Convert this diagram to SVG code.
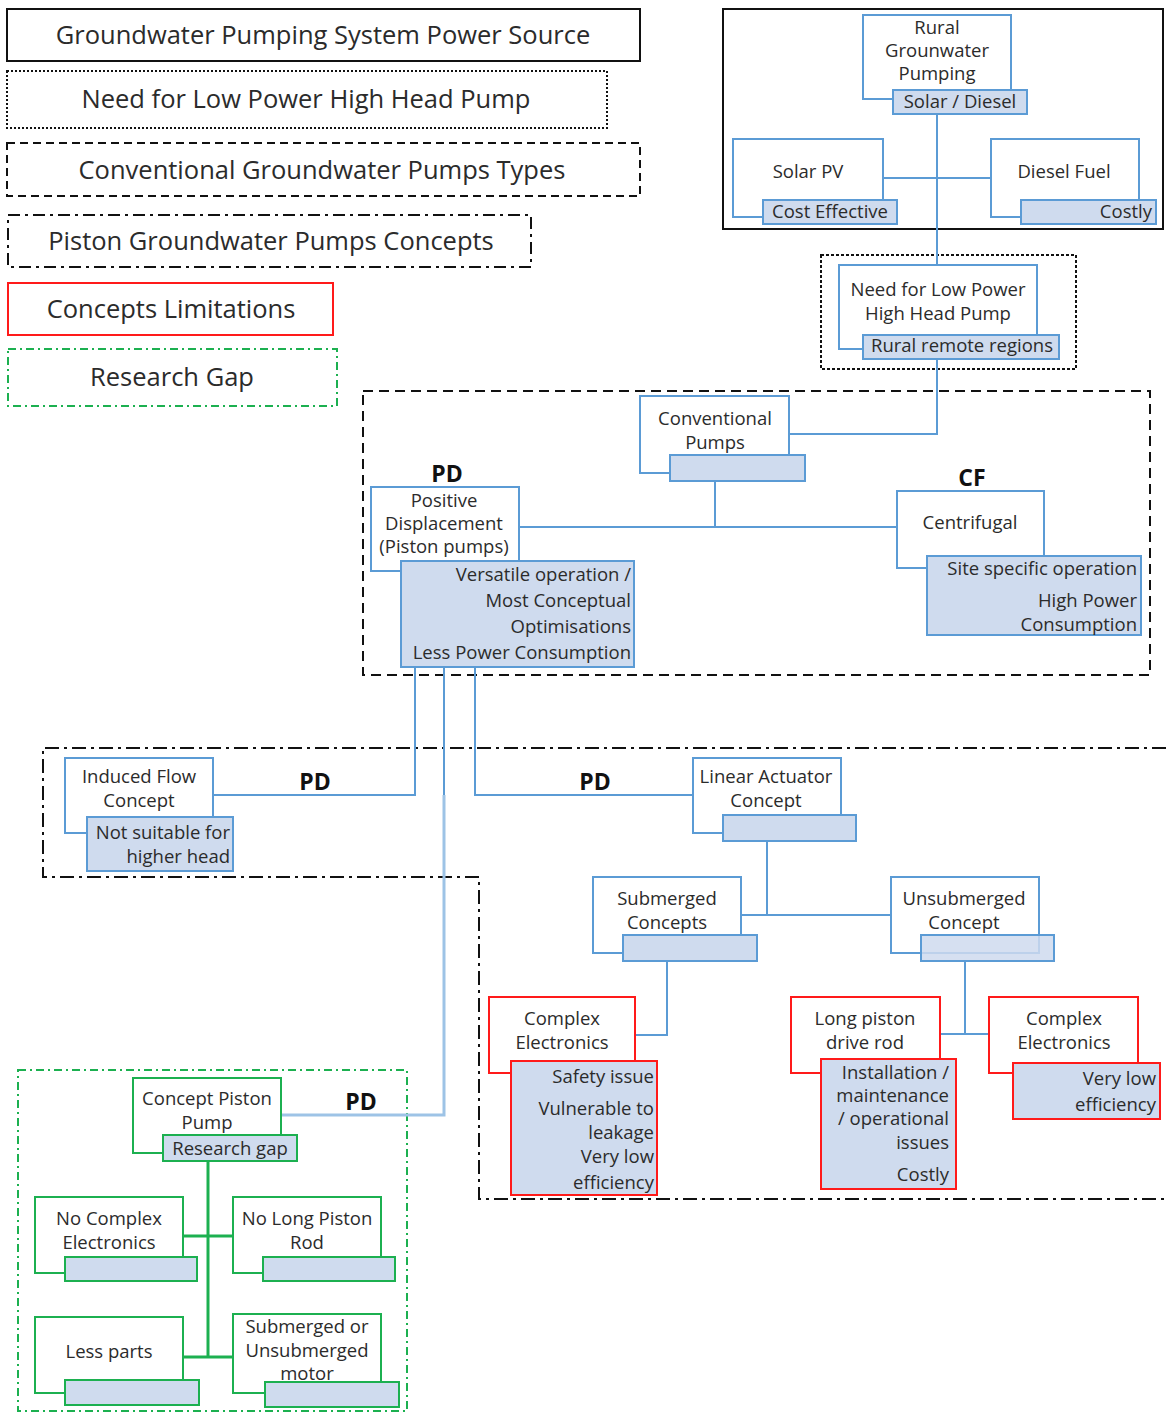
<svg xmlns="http://www.w3.org/2000/svg" width="1166" height="1413" viewBox="0 0 1166 1413">
<style>
text{font-family:"Open Sans","Noto Sans","Liberation Sans",sans-serif;fill:#2b2b2b;font-size:18.5px}
.c{text-anchor:middle}
.e{text-anchor:end}
.lg{font-size:25.5px;text-anchor:middle}
.pd{font-weight:bold;font-size:23px;fill:#111;text-anchor:middle}
.box{fill:#fff;stroke:#5b9bd5;stroke-width:2}
.lab{fill:#cfdbee;stroke:#5b9bd5;stroke-width:2}
.rbox{fill:#fff;stroke:#ff1a1a;stroke-width:2}
.rlab{fill:#cfdbee;stroke:#ff1a1a;stroke-width:2}
.gbox{fill:#fff;stroke:#1cb050;stroke-width:2}
.glab{fill:#cfdbee;stroke:#1cb050;stroke-width:2}
.wire{fill:none;stroke:#5b9bd5;stroke-width:2}
.wire2{fill:none;stroke:#9dc3e6;stroke-width:3}
.gwire{fill:none;stroke:#1cb050;stroke-width:3}
.frame{fill:none;stroke:#111;stroke-width:2}
</style>

<!-- Legend -->
<g id="legend">
<rect x="7" y="9" width="633" height="52" class="frame"/>
<text x="323" y="44" class="lg">Groundwater Pumping System Power Source</text>
<rect x="7" y="71" width="600" height="57" class="frame" stroke-dasharray="2 2"/>
<text x="306" y="108" class="lg">Need for Low Power High Head Pump</text>
<rect x="7" y="143" width="633" height="53" class="frame" stroke-dasharray="8 5"/>
<text x="322" y="179" class="lg">Conventional Groundwater Pumps Types</text>
<rect x="8" y="215" width="523" height="52" class="frame" stroke-dasharray="12 5 3 5"/>
<text x="271" y="250" class="lg">Piston Groundwater Pumps Concepts</text>
<rect x="8" y="283" width="325" height="52" fill="none" stroke="#ff1a1a" stroke-width="2"/>
<text x="171" y="318" class="lg">Concepts Limitations</text>
<rect x="8" y="349" width="329" height="57" fill="none" stroke="#1cb050" stroke-width="2" stroke-dasharray="8 4 2 4"/>
<text x="172" y="386" class="lg">Research Gap</text>
</g>

<!-- Group frames -->
<g id="frames">
<rect x="723" y="9" width="440" height="220" class="frame"/>
<rect x="821" y="255" width="255" height="114" class="frame" stroke-dasharray="3 2"/>
<rect x="363" y="391" width="787" height="284" class="frame" stroke-dasharray="10 6"/>
<path d="M1166,748 H43 V877 H479 V1199 H1166" class="frame" stroke-dasharray="14 5 3 5"/>
<rect x="18" y="1070" width="389" height="341" fill="none" stroke="#1cb050" stroke-width="2" stroke-dasharray="8 4 2 4"/>
</g>

<!-- Connectors -->
<g id="connectors">
<path d="M937,114 V265" class="wire"/>
<path d="M883,178 H991" class="wire"/>
<path d="M937,359 V434 H790" class="wire"/>
<path d="M715,481 V527" class="wire"/>
<path d="M519,527 H897" class="wire"/>
<path d="M415,667 V795 H213" class="wire"/>
<path d="M475,667 V795 H693" class="wire"/>
<path d="M444,795 V1115 H281" class="wire2"/>
<path d="M444,667 V795" class="wire"/>
<path d="M767,841 V915" class="wire"/>
<path d="M741,915 H891" class="wire"/>
<path d="M667,961 V1035 H635" class="wire"/>
<path d="M965,961 V1034" class="wire"/>
<path d="M940,1034 H989" class="wire"/>
<path d="M208,1161 V1357" class="gwire"/>
<path d="M183,1236 H233" class="gwire"/>
<path d="M183,1357 H233" class="gwire"/>
</g>

<!-- PD / CF tags -->
<g id="tags">
<text x="447" y="482" class="pd">PD</text>
<text x="972" y="486" class="pd">CF</text>
<text x="315" y="790" class="pd">PD</text>
<text x="595" y="790" class="pd">PD</text>
<text x="361" y="1110" class="pd">PD</text>
</g>

<g id="rural">
<rect x="863" y="15" width="148" height="84" class="box"/>
<rect x="893" y="90" width="134" height="24" class="lab"/>
<text x="937" y="33.5" class="c">Rural</text>
<text x="937" y="56.5" class="c">Grounwater</text>
<text x="937" y="79.5" class="c">Pumping</text>
<text x="960" y="108" class="c">Solar / Diesel</text>
</g>

<g id="solarpv">
<rect x="733" y="139" width="150" height="78" class="box"/>
<rect x="763" y="200" width="134" height="24" class="lab"/>
<text x="808" y="178" class="c">Solar PV</text>
<text x="830" y="218" class="c">Cost Effective</text>
</g>

<g id="diesel">
<rect x="991" y="139" width="148" height="78" class="box"/>
<rect x="1021" y="200" width="135" height="24" class="lab"/>
<text x="1064" y="178" class="c">Diesel Fuel</text>
<text x="1152" y="218" class="e">Costly</text>
</g>

<g id="need">
<rect x="839" y="265" width="198" height="84" class="box"/>
<rect x="863" y="335" width="196" height="24" class="lab"/>
<text x="938" y="296" class="c">Need for Low Power</text>
<text x="938" y="320" class="c">High Head Pump</text>
<text x="962" y="352" class="c">Rural remote regions</text>
</g>

<g id="conventional">
<rect x="640" y="396" width="149" height="77" class="box"/>
<rect x="670" y="455" width="135" height="26" class="lab"/>
<text x="715" y="425" class="c">Conventional</text>
<text x="715" y="449" class="c">Pumps</text>
</g>

<g id="positive">
<rect x="371" y="487" width="148" height="84" class="box"/>
<rect x="401" y="561" width="233" height="106" class="lab"/>
<text x="444" y="506.5" class="c">Positive</text>
<text x="444" y="529.5" class="c">Displacement</text>
<text x="444" y="552.5" class="c">(Piston pumps)</text>
<text x="631" y="580.5" class="e">Versatile operation /</text>
<text x="631" y="606.5" class="e">Most Conceptual</text>
<text x="631" y="632.5" class="e">Optimisations</text>
<text x="631" y="658.5" class="e">Less Power Consumption</text>
</g>

<g id="centrifugal">
<rect x="897" y="491" width="147" height="77" class="box"/>
<rect x="927" y="556" width="214" height="79" class="lab"/>
<text x="970" y="528.5" class="c">Centrifugal</text>
<text x="1137" y="574.5" class="e">Site specific operation</text>
<text x="1137" y="606.5" class="e">High Power</text>
<text x="1137" y="630.5" class="e">Consumption</text>
</g>

<g id="induced">
<rect x="65" y="758" width="148" height="75" class="box"/>
<rect x="87" y="817" width="146" height="54" class="lab"/>
<text x="139" y="782.5" class="c">Induced Flow</text>
<text x="139" y="806.5" class="c">Concept</text>
<text x="230" y="838.5" class="e">Not suitable for</text>
<text x="230" y="862.5" class="e">higher head</text>
</g>

<g id="linear">
<rect x="693" y="758" width="148" height="75" class="box"/>
<rect x="723" y="815" width="133" height="26" class="lab"/>
<text x="766" y="782.5" class="c">Linear Actuator</text>
<text x="766" y="806.5" class="c">Concept</text>
</g>

<g id="submerged">
<rect x="593" y="877" width="148" height="76" class="box"/>
<rect x="623" y="935" width="134" height="26" class="lab"/>
<text x="667" y="904.5" class="c">Submerged</text>
<text x="667" y="928.5" class="c">Concepts</text>
</g>

<g id="unsubmerged">
<rect x="891" y="877" width="148" height="76" class="box"/>
<rect x="921" y="935" width="133" height="26" class="lab" fill-opacity="0.85"/>
<text x="964" y="904.5" class="c">Unsubmerged</text>
<text x="964" y="928.5" class="c">Concept</text>
</g>

<g id="complex1">
<rect x="489" y="997" width="146" height="76" class="rbox"/>
<rect x="511" y="1061" width="146" height="134" class="rlab"/>
<text x="562" y="1024.5" class="c">Complex</text>
<text x="562" y="1048.5" class="c">Electronics</text>
<text x="654" y="1082.5" class="e">Safety issue</text>
<text x="654" y="1114.5" class="e">Vulnerable to</text>
<text x="654" y="1138.5" class="e">leakage</text>
<text x="654" y="1162.5" class="e">Very low</text>
<text x="654" y="1188.5" class="e">efficiency</text>
</g>

<g id="longpiston">
<rect x="791" y="997" width="149" height="76" class="rbox"/>
<rect x="821" y="1059" width="135" height="130" class="rlab"/>
<text x="865" y="1024.5" class="c">Long piston</text>
<text x="865" y="1048.5" class="c">drive rod</text>
<text x="949" y="1078.5" class="e">Installation /</text>
<text x="949" y="1101.5" class="e">maintenance</text>
<text x="949" y="1124.5" class="e">/ operational</text>
<text x="949" y="1148.5" class="e">issues</text>
<text x="949" y="1180.5" class="e">Costly</text>
</g>

<g id="complex2">
<rect x="989" y="997" width="149" height="76" class="rbox"/>
<rect x="1013" y="1063" width="147" height="56" class="rlab"/>
<text x="1064" y="1024.5" class="c">Complex</text>
<text x="1064" y="1048.5" class="c">Electronics</text>
<text x="1156" y="1084.5" class="e">Very low</text>
<text x="1156" y="1110.5" class="e">efficiency</text>
</g>

<g id="conceptpiston">
<rect x="133" y="1078" width="148" height="75" class="gbox"/>
<rect x="163" y="1135" width="134" height="26" class="glab"/>
<text x="207" y="1104.5" class="c">Concept Piston</text>
<text x="207" y="1128.5" class="c">Pump</text>
<text x="230" y="1154.5" class="c">Research gap</text>
</g>

<g id="nocomplex">
<rect x="35" y="1197" width="148" height="76" class="gbox"/>
<rect x="65" y="1257" width="132" height="24" class="glab"/>
<text x="109" y="1224.5" class="c">No Complex</text>
<text x="109" y="1248.5" class="c">Electronics</text>
</g>

<g id="nolong">
<rect x="233" y="1197" width="148" height="76" class="gbox"/>
<rect x="263" y="1257" width="132" height="24" class="glab"/>
<text x="307" y="1224.5" class="c">No Long Piston</text>
<text x="307" y="1248.5" class="c">Rod</text>
</g>

<g id="lessparts">
<rect x="35" y="1317" width="148" height="76" class="gbox"/>
<rect x="65" y="1380" width="134" height="25" class="glab"/>
<text x="109" y="1357.5" class="c">Less parts</text>
</g>

<g id="motor">
<rect x="233" y="1314" width="148" height="79" class="gbox"/>
<text x="307" y="1332.5" class="c">Submerged or</text>
<text x="307" y="1356.5" class="c">Unsubmerged</text>
<text x="307" y="1379.5" class="c">motor</text>
<rect x="265" y="1382" width="134" height="25" class="glab"/>
</g>
</svg>
